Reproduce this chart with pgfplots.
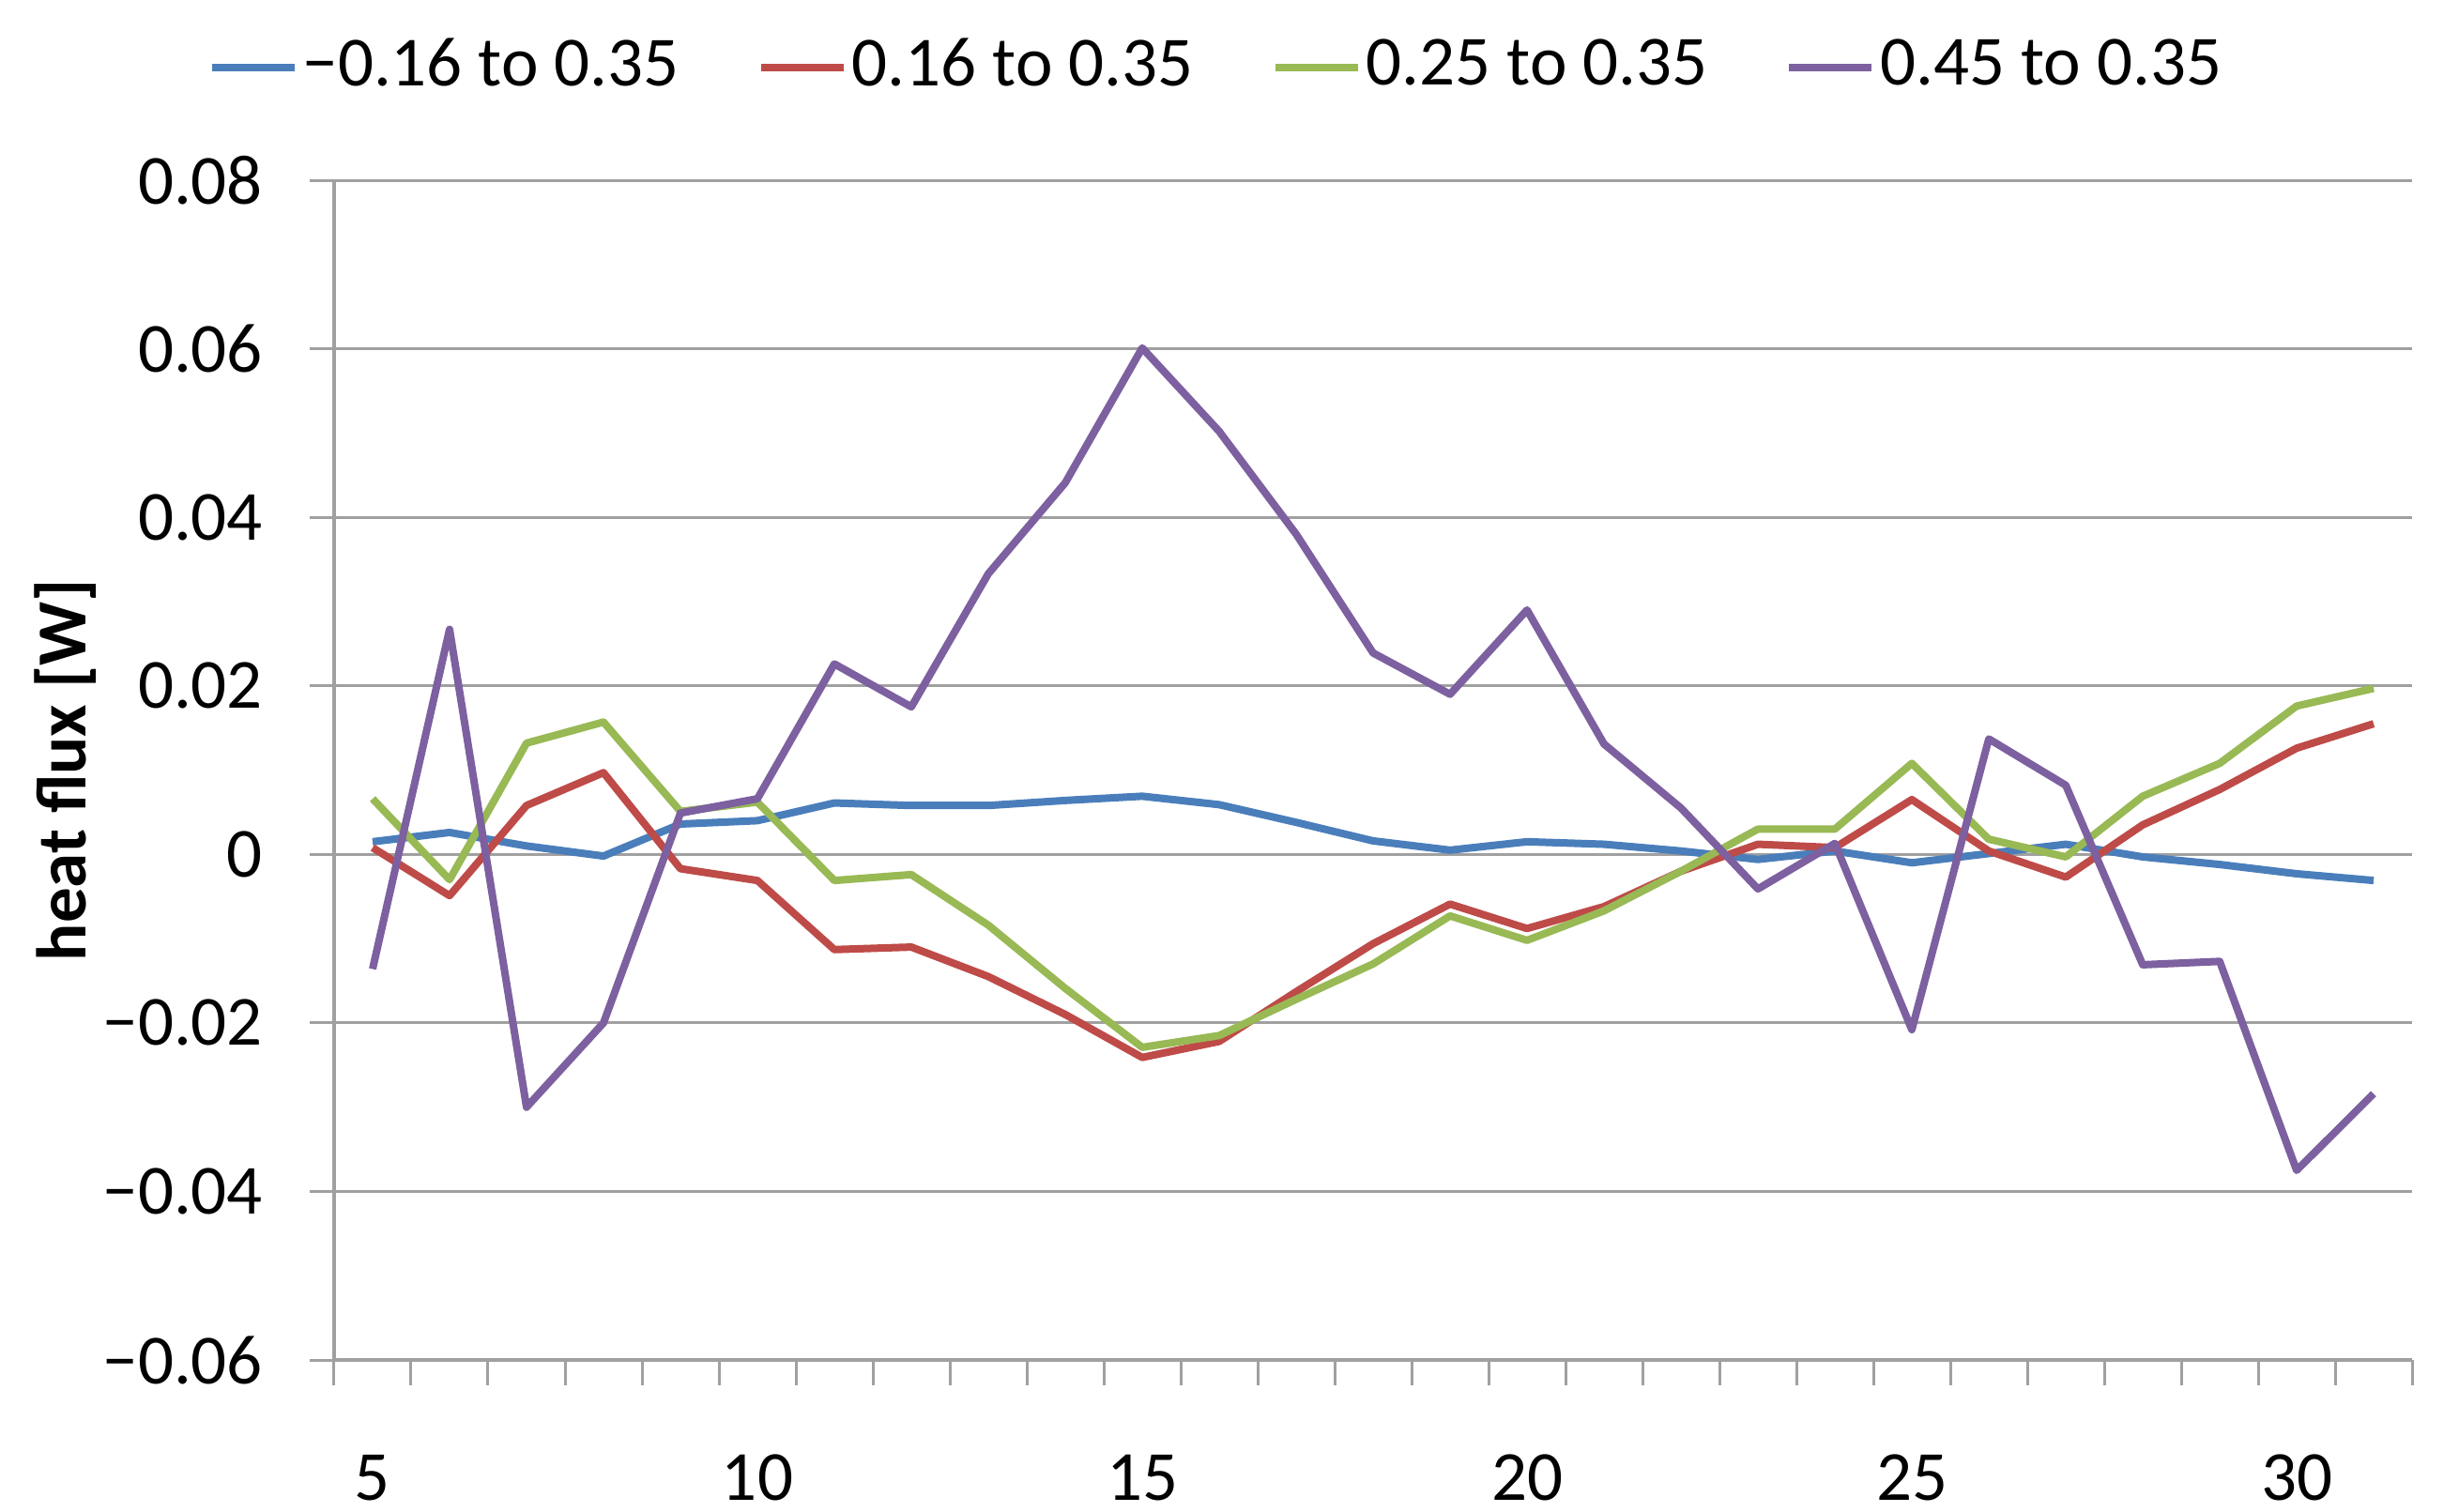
\documentclass[border=0pt]{standalone}
\usepackage{fontspec}
\setmainfont{Carlito}
\usepackage{pgfplots}
\pgfplotsset{compat=1.18}
\definecolor{sblue}{HTML}{4A7EBB}
\definecolor{sred}{HTML}{BE4B48}
\definecolor{sgreen}{HTML}{98B954}
\definecolor{spurple}{HTML}{7D60A0}
\definecolor{gridgray}{HTML}{A0A0A0}

\pgfplotstableread{
x blue red green purple
5  0.0015  0.0008  0.0066 -0.0136
6  0.0026 -0.0049 -0.0030  0.0267
7  0.0010  0.0058  0.0132 -0.0300
8 -0.0002  0.0097  0.0157 -0.0200
9  0.0036 -0.0017  0.0051  0.0049
10 0.0040 -0.0031  0.0062  0.0066
11 0.0061 -0.0113 -0.0031  0.0226
12 0.0058 -0.0110 -0.0024  0.0175
13 0.0058 -0.0145 -0.0084  0.0333
14 0.0064 -0.0190 -0.0159  0.0441
15 0.0069 -0.0241 -0.0229  0.0601
16 0.0059 -0.0222 -0.0215  0.0502
17 0.0038 -0.0163 -0.0172  0.0380
18 0.0016 -0.0106 -0.0130  0.0239
19 0.0005 -0.0059 -0.0073  0.0190
20 0.0015 -0.0088 -0.0102  0.0290
21 0.0012 -0.0062 -0.0067  0.0131
22 0.0004 -0.0020 -0.0020  0.0055
23 -0.0006 0.0012  0.0030 -0.0041
24 0.0004  0.0008  0.0030  0.0013
25 -0.0010 0.0065  0.0108 -0.0208
26 0.0001  0.0004  0.0018  0.0137
27 0.0012 -0.0027 -0.0003  0.0082
28 -0.0003 0.0035  0.0069 -0.0131
29 -0.0012 0.0077  0.0108 -0.0127
30 -0.0023 0.0126  0.0176 -0.0375
31 -0.0031 0.0155  0.0197 -0.0284
}\data

\begin{document}
\fontsize{15}{18}\selectfont
\begin{tikzpicture}
\begin{axis}[
  at={(0,0)}, anchor=south west,
  scale only axis, width=442.8pt, height=251.4pt,
  xmin=4.5, xmax=31.5, ymin=-0.06, ymax=0.08,
  axis x line*=bottom, axis y line*=left,
  axis line style={draw=gridgray, line width=0.7pt, -},
  scaled y ticks=false,
  xtick={5,10,15,20,25,30},
  xticklabels={5,10,15,20,25,30},
  minor xtick={4.5,5.5,...,31.5},
  ytick={-0.06,-0.04,-0.02,0,0.02,0.04,0.06,0.08},
  yticklabels={−0.06,−0.04,−0.02,0,0.02,0.04,0.06,0.08},
  tick align=outside,
  major tick length=5.2pt,
  minor tick length=5.4pt,
  tick style={draw=gridgray, line width=0.6pt},
  major x tick style={draw=none},
  ymajorgrids=true,
  major grid style={draw=gridgray, line width=0.6pt},
  yticklabel style={anchor=east, inner sep=0pt, xshift=-15pt+5.2pt},
  xticklabel style={anchor=north, inner sep=0pt, yshift=-14.8pt},
  ylabel={\bfseries heat flux [W]},
  ylabel style={at={(axis description cs:-0.1292,0.5)}, anchor=center},
  legend columns=4,
  legend style={at={(axis description cs:0.425,1)}, anchor=center, yshift=24pt,
    draw=none, fill=none,
    nodes={inner xsep=1pt, inner ysep=2pt},
    /tikz/every even column/.append style={column sep=15.6pt}},
  legend cell align=left,
  legend image code/.code={\draw[#1] (0pt,0pt) -- (17.6pt,0pt);},
]
\addplot[sblue, line width=1.6pt, line join=round] table[x=x, y=blue] {\data};
\addlegendentry{−0.16 to 0.35}
\addplot[sred, line width=1.6pt, line join=round] table[x=x, y=red] {\data};
\addlegendentry{0.16 to 0.35}
\addplot[sgreen, line width=1.6pt, line join=round] table[x=x, y=green] {\data};
\addlegendentry{0.25 to 0.35}
\addplot[spurple, line width=1.6pt, line join=round] table[x=x, y=purple] {\data};
\addlegendentry{0.45 to 0.35}
\end{axis}
\pgfresetboundingbox
\path[use as bounding box] (-71.2pt,-32.2pt) rectangle (452.8pt,289.8pt);
\end{tikzpicture}
\end{document}
